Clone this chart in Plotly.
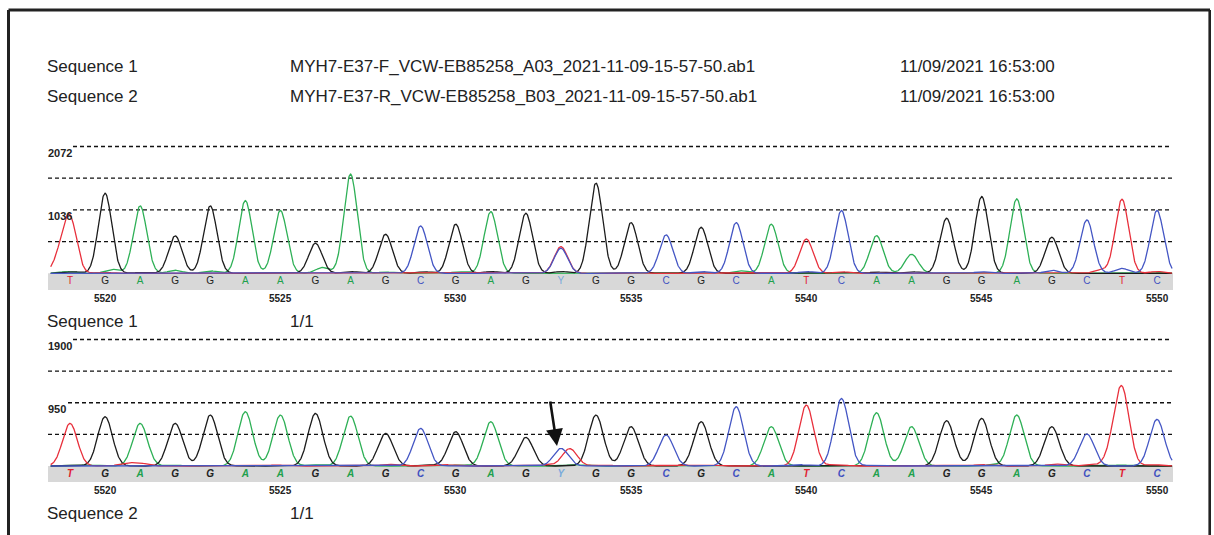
import numpy as np
import plotly.graph_objects as go

# ---------------------------------------------------------------- data
positions = list(range(5519, 5551))
calls_1 = "TGAGGAAGAGCGAGYGGCGCATCAAGGAGCTC"
calls_2 = "TGAGGAAGAGCGAGYGGCGCATCAAGGAGCTC"

# main peak height at each called base (for Y this is the C peak)
heights_1 = [872, 1309, 1101, 611, 1101, 1188, 1025, 491, 1620, 638,
             774, 802, 1008, 982, 409, 1473, 828, 627, 753, 828,
             802, 561, 1025, 615, 311, 900, 1254, 1216, 589, 872,
             1211, 1025]
heights_2 = [640, 740, 640, 640, 765, 815, 765, 790, 750, 490,
             565, 515, 665, 430, 265, 765, 590, 465, 665, 890,
             590, 915, 1015, 800, 590, 680, 715, 765, 590, 480,
             1125, 700]

# extra peaks: (position, base, height) -- heterozygous calls, shoulders, background
extra_1 = [(5533.0, "T", 436), (5518.72, "T", 260),
           (5518.9, "A", 30), (5519.1, "G", 25), (5520.2, "A", 65),
           (5519.95, "T", 18), (5521.0, "G", 15), (5522.0, "A", 50),
           (5523.0, "A", 40), (5526.2, "A", 95), (5527.0, "G", 30),
           (5528.0, "A", 20), (5529.1, "G", 25), (5530.1, "A", 25),
           (5531.0, "G", 30), (5533.0, "G", 30), (5535.0, "T", 15),
           (5537.0, "C", 30), (5538.1, "A", 40), (5540.0, "C", 30),
           (5541.0, "T", 25), (5542.0, "G", 20), (5543.0, "G", 25),
           (5545.0, "C", 25), (5547.0, "C", 50), (5548.4, "T", 55),
           (5549.0, "C", 80), (5550.0, "T", 30), (5550.1, "A", 15)]
extra_2 = [(5533.25, "T", 262), (5548.74, "T", 170),
           (5519.5, "A", 15), (5520.6, "T", 40), (5521.0, "T", 40),
           (5522.0, "A", 15), (5524.9, "T", 15), (5526.0, "A", 15),
           (5528.1, "T", 25), (5529.3, "G", 15), (5529.7, "T", 20),
           (5530.1, "A", 15), (5532.6, "T", 15), (5533.4, "A", 20),
           (5534.2, "T", 20), (5536.5, "T", 15), (5537.3, "T", 15),
           (5539.8, "C", 20), (5540.9, "T", 25), (5542.0, "C", 15),
           (5545.0, "T", 20), (5545.3, "A", 15), (5547.1, "T", 30),
           (5548.1, "T", 15), (5549.0, "A", 15), (5549.9, "T", 20)]

levels_1 = [0, 518, 1036, 1554, 2072]
levels_2 = [0, 475, 950, 1425, 1900]
level_labels_1 = {2072: "2072", 1036: "1036"}
level_labels_2 = {1900: "1900", 950: "950"}
tick_positions = [5520, 5525, 5530, 5535, 5540, 5545, 5550]

header_rows = [("Sequence 1", "MYH7-E37-F_VCW-EB85258_A03_2021-11-09-15-57-50.ab1", "11/09/2021 16:53:00"),
               ("Sequence 2", "MYH7-E37-R_VCW-EB85258_B03_2021-11-09-15-57-50.ab1", "11/09/2021 16:53:00")]

# ---------------------------------------------------------------- styling
W, H = 1214, 535
TRACE = {"A": "#2eb056", "C": "#4456c4", "G": "#1c1c1c", "T": "#e8303c"}
LETTER = {"A": "#20a04c", "C": "#4050c0", "G": "#222222", "T": "#e02030", "Y": "#7aaadc"}
Y_SPLIT = {"Y": ("C", "T")}
FONT_TXT = "Liberation Sans, Arial, sans-serif"
FONT_SMALL = "Liberation Sans, Arial, sans-serif"


def px_x(p):
    return p / W


def px_y(p):
    return 1 - p / H


# pixel geometry of the two panels
X_LEFT, X_RIGHT = 48, 1173          # gray band extent
BASE_PX = {5519: 70, 5550: 1157}    # centre pixels of first/last base
step = (BASE_PX[5550] - BASE_PX[5519]) / (5550 - 5519)
x_range = [5519 - (BASE_PX[5519] - X_LEFT) / step, 5550 + (X_RIGHT - BASE_PX[5550]) / step]

panels = [
    dict(top_px=146.5, base_px=273.3, band_px=290.0, levels=levels_1, labels=level_labels_1,
         heights=heights_1, calls=calls_1, extra=extra_1, sigma=0.19, italic=False,
         name="Sequence 1", label_px=321, tick_px=298),
    dict(top_px=339.5, base_px=466.0, band_px=482.0, levels=levels_2, labels=level_labels_2,
         heights=heights_2, calls=calls_2, extra=extra_2, sigma=0.21, italic=True,
         name="Sequence 2", label_px=513, tick_px=490),
]

fig = go.Figure()
shapes, annotations = [], []
xs = np.arange(5518.45, 5550.43, 0.01)

for i, p in enumerate(panels):
    xa = "x" if i == 0 else "x2"
    ya = "y" if i == 0 else "y2"
    top_val = p["levels"][-1]
    per_px = top_val / (p["base_px"] - p["top_px"])
    y_min = -(p["band_px"] - p["base_px"]) * per_px
    y_max = top_val + 2 * per_px

    # traces: sum of gaussian peaks per channel
    chans = {b: np.zeros_like(xs) for b in "ACGT"}
    for pos, call, h in zip(positions, p["calls"], p["heights"]):
        base = Y_SPLIT.get(call, (call,))[0]
        chans[base] += h * np.exp(-0.5 * ((xs - pos) / p["sigma"]) ** 2)
    for pos, base, h in p["extra"]:
        chans[base] += h * np.exp(-0.5 * ((xs - pos) / p["sigma"]) ** 2)
    for b in ["A", "G", "T", "C"]:
        fig.add_trace(go.Scatter(x=xs, y=chans[b], mode="lines", xaxis=xa, yaxis=ya,
                                 line=dict(color=TRACE[b], width=1.3), hoverinfo="skip",
                                 showlegend=False))

    # base calls in the gray band
    letter_y = -(p["band_px"] - p["base_px"]) / 2 * per_px
    fig.add_trace(go.Scatter(
        x=positions, y=[letter_y] * len(positions), mode="text", xaxis=xa, yaxis=ya,
        text=list(p["calls"]), cliponaxis=False, showlegend=False, hoverinfo="skip",
        textfont=dict(family=FONT_SMALL, size=10,
                      color=[LETTER[c] for c in p["calls"]],
                      style="italic" if p["italic"] else "normal",
                      weight="bold" if p["italic"] else "normal")))

    # gray band under the traces
    shapes.append(dict(type="rect", xref=xa, yref=ya, x0=x_range[0], x1=x_range[1],
                       y0=y_min, y1=0, fillcolor="#d8d8d8", line=dict(width=0), layer="below"))

    # dashed intensity levels
    for lv in p["levels"][1:]:
        start = 73 if lv in p["labels"] and len(p["labels"][lv]) == 4 else (68 if lv in p["labels"] else X_LEFT)
        shapes.append(dict(type="line", xref="paper", yref=ya, x0=px_x(start), x1=px_x(1172),
                           y0=lv, y1=lv, line=dict(color="#111", width=1.3, dash="4px,3px"),
                           layer="below"))
    for lv, txt in p["labels"].items():
        annotations.append(dict(text=txt, xref="paper", yref=ya, x=px_x(X_LEFT - 2), y=lv,
                                xanchor="left", yanchor="middle", yshift=-6, showarrow=False,
                                font=dict(family=FONT_SMALL, size=11, color="#222", weight="bold")))

    # position ticks
    for t in tick_positions:
        annotations.append(dict(text=str(t), xref=xa, yref="paper", x=t, y=px_y(p["tick_px"]),
                                xanchor="center", yanchor="middle", showarrow=False,
                                font=dict(family=FONT_SMALL, size=10, color="#222", weight="bold")))

    # panel caption
    annotations.append(dict(text=p["name"], xref="paper", yref="paper", x=px_x(45),
                            y=px_y(p["label_px"]), xanchor="left", yanchor="middle",
                            showarrow=False, font=dict(family=FONT_TXT, size=17, color="#222")))
    annotations.append(dict(text="1/1", xref="paper", yref="paper", x=px_x(288),
                            y=px_y(p["label_px"]), xanchor="left", yanchor="middle",
                            showarrow=False, font=dict(family=FONT_TXT, size=17, color="#222")))

    dom = [px_y(p["band_px"]), px_y(p["top_px"] - 2)]
    axis_common = dict(showgrid=False, zeroline=False, showline=False, showticklabels=False,
                       ticks="", fixedrange=True)
    if i == 0:
        fig.update_layout(xaxis=dict(domain=[px_x(X_LEFT), px_x(X_RIGHT)], range=x_range,
                                     anchor="y", **axis_common),
                          yaxis=dict(domain=dom, range=[y_min, y_max], anchor="x", **axis_common))
    else:
        fig.update_layout(xaxis2=dict(domain=[px_x(X_LEFT), px_x(X_RIGHT)], range=x_range,
                                      anchor="y2", **axis_common),
                          yaxis2=dict(domain=dom, range=[y_min, y_max], anchor="x2", **axis_common))

# header lines
for row, (seq, fname, stamp) in enumerate(header_rows):
    yy = px_y(67 + row * 30)
    for x0, txt in [(45, seq), (288, fname), (898, stamp)]:
        annotations.append(dict(text=txt, xref="paper", yref="paper", x=px_x(x0), y=yy,
                                xanchor="left", yanchor="middle", showarrow=False,
                                font=dict(family=FONT_TXT, size=17, color="#222")))

# arrow pointing at the heterozygous Y call of sequence 2
annotations.append(dict(text="", xref="paper", yref="paper", x=px_x(557), y=px_y(446),
                        ax=-7, ay=-46, showarrow=True, arrowhead=2, arrowsize=1.3,
                        arrowwidth=2.6, arrowcolor="#111", standoff=0))

# page frame
shapes += [
    dict(type="line", xref="paper", yref="paper", x0=px_x(8.5), x1=px_x(1210), y0=px_y(10), y1=px_y(10),
         line=dict(color="#222", width=3)),
    dict(type="line", xref="paper", yref="paper", x0=px_x(8.5), x1=px_x(8.5), y0=px_y(10), y1=0,
         line=dict(color="#222", width=3)),
    dict(type="line", xref="paper", yref="paper", x0=px_x(1209.7), x1=px_x(1209.7), y0=px_y(10), y1=0,
         line=dict(color="#222", width=2.6)),
]

fig.update_layout(width=W, height=H, margin=dict(l=0, r=0, t=0, b=0),
                  paper_bgcolor="white", plot_bgcolor="rgba(0,0,0,0)",
                  shapes=shapes, annotations=annotations, showlegend=False)

fig.write_html("out.html", config={"displayModeBar": False})
